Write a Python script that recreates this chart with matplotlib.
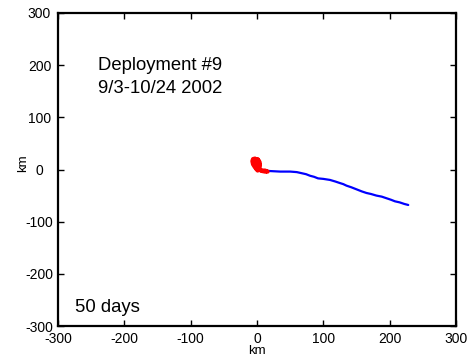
import matplotlib
matplotlib.use("Agg")
import matplotlib.pyplot as plt

plt.rcParams['font.family'] = ['Liberation Sans', 'DejaVu Sans']
plt.rcParams['axes.unicode_minus'] = False

# Drifter track (km east, km north)
blue_x = [0, 5, 12, 20, 35, 50, 60, 67, 74, 80, 86, 92, 100, 110, 118, 125, 130, 135, 142, 150,
          158, 165, 172, 180, 188, 195, 202, 208, 215, 222, 228]
blue_y = [1, 0, -2, -3, -4, -4, -5, -7, -9, -12, -14, -17, -18, -20, -23, -26, -28, -31, -34, -38,
          -42, -45, -47, -50, -52, -55, -58, -61, -63, -66, -68]
red_x = [0, -3, -6, -7, -6, -3, -1, 1, 2, 3, 4, 4, 2, 0, -2, -4, -5, -3, 0, 3, 4, 2, 0, -1,
         1, 3, 2, 0, 4, 8, 12, 16, 12, 7, 3]
red_y = [0, 4, 10, 16, 20, 21, 18, 20, 17, 12, 8, 14, 18, 14, 10, 14, 18, 16, 12, 10, 4, 2,
         6, 1, -2, 0, 5, 8, -1, -3, -4, -4, -2, -2, 1]

ticks = [-300, -200, -100, 0, 100, 200, 300]

fig = plt.figure(figsize=(4.77, 3.57), dpi=100)
ax = fig.add_axes([58/477, 1 - 326/357, (456-58)/477, (326-13)/357])

ax.plot(blue_x, blue_y, color='#0000ff', lw=1.6, solid_capstyle='round')
ax.plot(red_x, red_y, color='#ff0000', lw=3.0, solid_joinstyle='round', solid_capstyle='round')

ax.set_xlim(-300, 300)
ax.set_ylim(-300, 300)
ax.set_xticks(ticks)
ax.set_yticks(ticks)
ax.tick_params(direction='in', top=True, right=True, length=4, width=1, labelsize=10)
ax.tick_params(axis='x', pad=4.5)
ax.tick_params(axis='y', pad=13.3)
for lab in ax.get_yticklabels():
    lab.set_horizontalalignment('center')
for s in ax.spines.values():
    s.set_linewidth(1.6)

ax.set_xlabel('km', fontsize=9.5)
ax.set_ylabel('km', fontsize=9.5)
ax.xaxis.set_label_coords(0.5, -0.06)
ax.yaxis.set_label_coords(-0.072, 0.52)

ax.text(-240, 190, 'Deployment #9', fontsize=13.3, ha='left', va='baseline')
ax.text(-240, 146, '9/3-10/24 2002', fontsize=13.3, ha='left', va='baseline')
ax.text(-275, -273, '50 days', fontsize=13.3, ha='left', va='baseline')

fig.savefig('out.png', dpi=100)
